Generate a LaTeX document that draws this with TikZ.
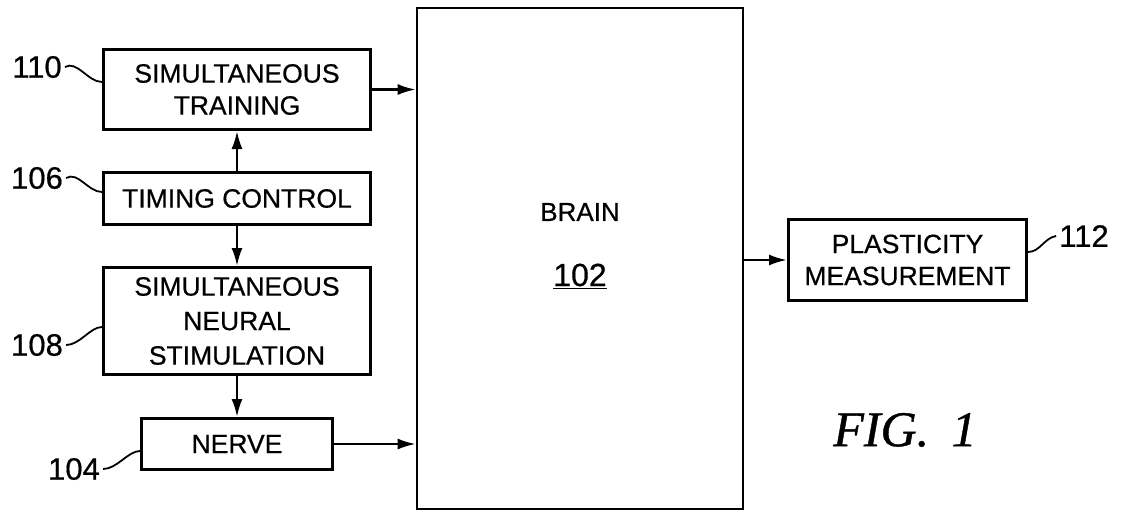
\documentclass[tikz,border=0pt]{standalone}
\usepackage{fontspec}
\setmainfont{Liberation Sans}[FakeBold=0.6]
\newfontfamily\figfont{Liberation Serif}[FakeBold=0.8]
\usetikzlibrary{arrows.meta}

\begin{document}
\begin{tikzpicture}[x=1pt,y=-1pt,>={Latex[length=18pt,width=11pt]},line width=2.4pt,
	block/.style={draw,line width=3pt,align=center,inner sep=0pt,
		font=\fontsize{26.5}{32}\selectfont},
	refnum/.style={inner sep=0pt,font=\fontsize{31}{31}\selectfont},
	squig/.style={line width=1.8pt}]
\useasboundingbox (0,0) rectangle (1130,512);
% blocks
\node[block,minimum width=267,minimum height=80] (train) at (237,89.5)
	{SIMULTANEOUS\\TRAINING};
\node[block,minimum width=267,minimum height=52] (timing) at (237,198.5)
	{TIMING CONTROL};
\node[block,minimum width=267,minimum height=107,
	font=\fontsize{26.5}{34.5}\selectfont] (stim) at (237,321)
	{SIMULTANEOUS\\NEURAL\\STIMULATION};
\node[block,minimum width=191,minimum height=51] (nerve) at (237,444)
	{NERVE};
\node[draw,line width=2.6pt,minimum width=326,minimum height=501] (brain) at (580,258.5) {};
\node[font=\fontsize{26}{26}\selectfont,inner sep=0pt] (braintxt) at (580,212) {BRAIN};
\node[font=\fontsize{32}{32}\selectfont,inner sep=0pt] (brainnum) at (580,276) {\underline{102}};
\node[block,minimum width=238,minimum height=81] (plast) at (907.5,260)
	{PLASTICITY\\MEASUREMENT};
% arrows
\draw[->] (timing) -- (train);
\draw[->] (timing) -- (stim);
\draw[->] (stim) -- (nerve);
\draw[->] (train.east) -- (train.east -| brain.west);
\draw[->] (nerve.east) -- (nerve.east -| brain.west);
\draw[->] (plast.west -| brain.east) -- (plast.west);
% reference numbers
\node[refnum] (r110) at (37,67) {110};
\node[refnum] (r106) at (37,178) {106};
\node[refnum] (r108) at (37,345) {108};
\node[refnum] (r104) at (74,469) {104};
\node[refnum] (r112) at (1084,236) {112};
\draw[squig] ([xshift=2pt]r110.east) .. controls +(12,-7) and +(-14,0) .. ([yshift=7.5pt]train.west);
\draw[squig] ([xshift=2pt]r106.east) .. controls +(12,-7) and +(-14,0) .. ([yshift=6.5pt]timing.west);
\draw[squig] ([xshift=2pt]r108.east) .. controls +(14,0) and +(-12,0) .. ([yshift=-6pt]stim.west);
\draw[squig] ([xshift=2pt]r104.east) .. controls +(14,0) and +(-12,0) .. ([yshift=-7pt]nerve.west);
\draw[squig] ([yshift=8pt]plast.east) .. controls +(12,0) and +(-12,2) .. ([xshift=-2pt]r112.west);
% figure caption
\node[font=\figfont\itshape\fontsize{50}{50}\selectfont,inner sep=0pt] (fig) at (905,430) {FIG.\hspace{0.45em}1};
\end{tikzpicture}
\end{document}
